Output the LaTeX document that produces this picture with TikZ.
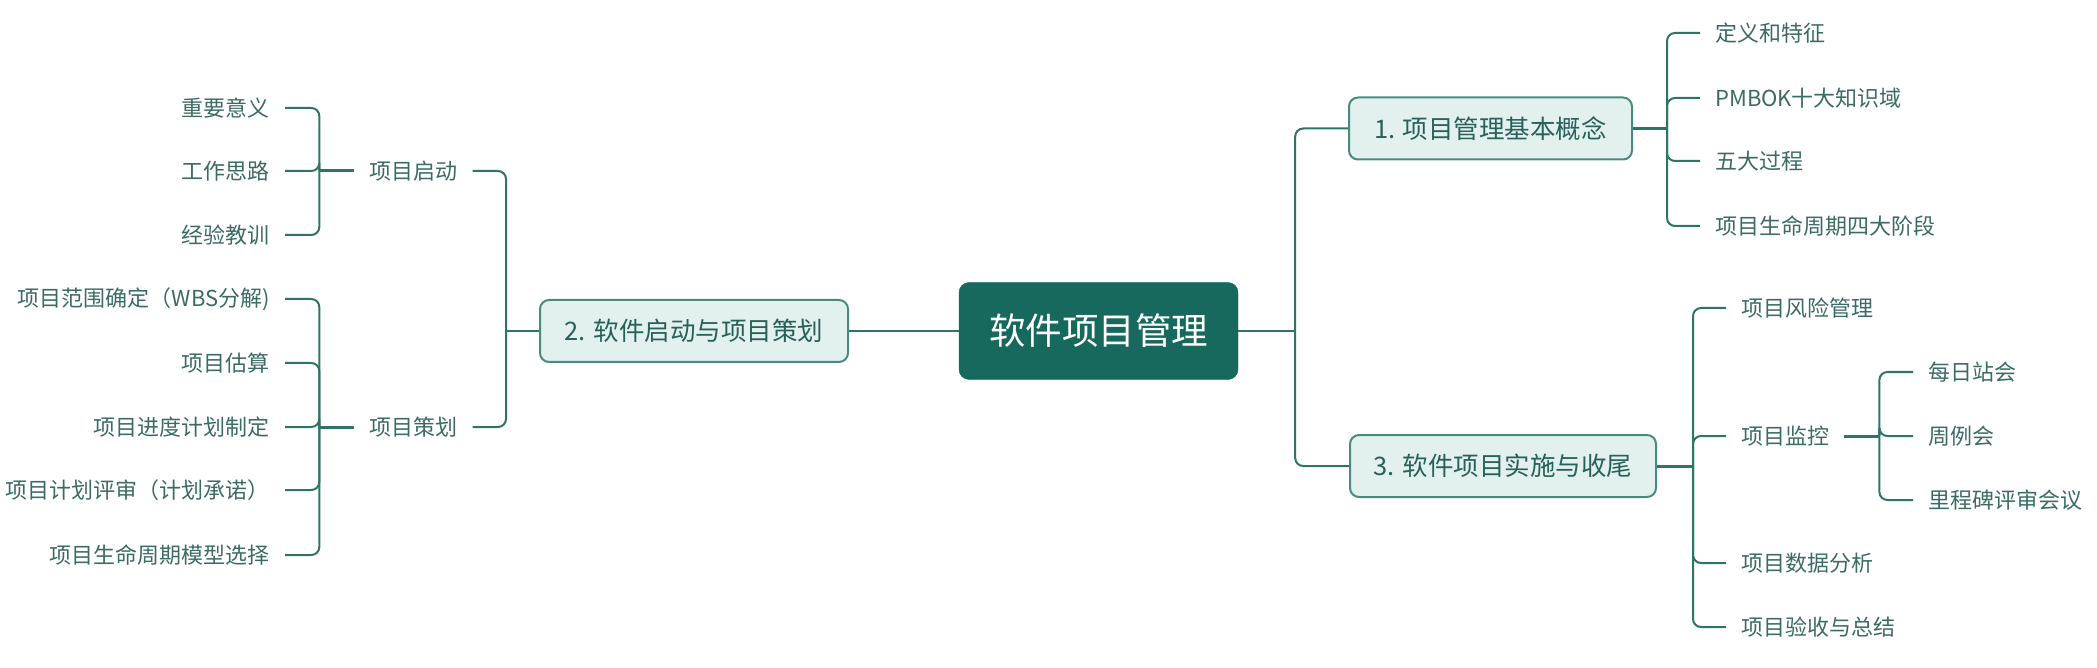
\documentclass[tikz,border=0pt]{standalone}
\usepackage{fontspec}
\newfontfamily\cjk{Noto Sans CJK SC}
\usepackage{xcolor}
\definecolor{rootteal}{RGB}{23, 105, 93}
\definecolor{boxfill}{RGB}{226, 240, 238}
\definecolor{boxline}{RGB}{74, 138, 128}
\definecolor{boxtext}{RGB}{40, 96, 90}
\definecolor{leaftext}{RGB}{59, 107, 100}
\definecolor{linkteal}{RGB}{46, 116, 104}

\begin{document}
\begin{tikzpicture}[x=1pt, y=-1pt,
	rootbox/.style={draw=rootteal, fill=rootteal, rounded corners=10pt, text=white, minimum width=279pt, minimum height=97pt, font=\cjk\fontsize{36.5}{40}\selectfont},
	topicbox/.style={draw=boxline, line width=2pt, fill=boxfill, rounded corners=9pt, text=boxtext, minimum height=62pt, font=\cjk\fontsize{25.5}{30}\selectfont},
	leaf/.style={text=leaftext, inner xsep=15pt, inner ysep=3pt, font=\cjk\fontsize{22}{26}\selectfont},
	link/.style={draw=linkteal, line width=2pt, rounded corners=8pt},
	stub/.style={draw=linkteal, line width=3pt}]
	\useasboundingbox (0,0) rectangle (2097,668);
	\node[rootbox] (root) at (1098.5,331) {软件项目管理};
	\node[topicbox, minimum width=308pt] (plan) at (694,331) {2. 软件启动与项目策划};
	\node[topicbox, minimum width=283pt] (concept) at (1490.5,128.5) {1. 项目管理基本概念};
	\node[topicbox, minimum width=306pt] (impl) at (1503,466) {3. 软件项目实施与收尾};

	\node[leaf] (start) at (413.5,171) {项目启动};
	\node[leaf] (scheme) at (413.5,427) {项目策划};
	\node[leaf, anchor=east] (meaning) at (285,108) {重要意义};
	\node[leaf, anchor=east] (idea) at (285,171) {工作思路};
	\node[leaf, anchor=east] (lesson) at (285,235) {经验教训};
	\node[leaf, anchor=east] (scope) at (285,299) {项目范围确定（WBS分解)};
	\node[leaf, anchor=east] (estimate) at (285,363) {项目估算};
	\node[leaf, anchor=east] (sched) at (285,427) {项目进度计划制定};
	\node[leaf, anchor=east] (review) at (285,490) {项目计划评审（计划承诺）};
	\node[leaf, anchor=east] (model) at (285,555) {项目生命周期模型选择};

	\node[leaf, anchor=west] (def) at (1700,33) {定义和特征};
	\node[leaf, anchor=west] (pmbok) at (1700,98) {PMBOK十大知识域};
	\node[leaf, anchor=west] (proc) at (1700,161) {五大过程};
	\node[leaf, anchor=west] (phase) at (1700,226) {项目生命周期四大阶段};

	\node[leaf, anchor=west] (risk) at (1726,308) {项目风险管理};
	\node[leaf, anchor=west] (monitor) at (1726,436) {项目监控};
	\node[leaf, anchor=west] (data) at (1726,563) {项目数据分析};
	\node[leaf, anchor=west] (accept) at (1726,627) {项目验收与总结};
	\node[leaf, anchor=west] (daily) at (1913,372) {每日站会};
	\node[leaf, anchor=west] (weekly) at (1913,436) {周例会};
	\node[leaf, anchor=west] (milestone) at (1913,500) {里程碑评审会议};

	\draw[link] (root.west) -- (plan.east);
	\draw[link] (root.east) -- ++(57,0) coordinate (rootj);
	\draw[link] (rootj) |- (concept.west);
	\draw[link] (rootj) |- (impl.west);

	\draw[link] (plan.west) -- ++(-33,0) coordinate (planj);
	\draw[link] (planj) |- (start.east);
	\draw[link] (planj) |- (scheme.east);

	\draw[stub] (start.west) -- ++(-35,0) coordinate (startj);
	\draw[link] (startj) |- (meaning.east);
	\draw[link] (startj) |- (idea.east);
	\draw[link] (startj) |- (lesson.east);

	\draw[stub] (scheme.west) -- ++(-35,0) coordinate (schemej);
	\draw[link] (schemej) |- (scope.east);
	\draw[link] (schemej) |- (estimate.east);
	\draw[link] (schemej) |- (sched.east);
	\draw[link] (schemej) |- (review.east);
	\draw[link] (schemej) |- (model.east);

	\draw[stub] (concept.east) -- ++(34,0) coordinate (conceptj);
	\draw[link] (conceptj) |- (def.west);
	\draw[link] (conceptj) |- (pmbok.west);
	\draw[link] (conceptj) |- (proc.west);
	\draw[link] (conceptj) |- (phase.west);

	\draw[stub] (impl.east) -- ++(36,0) coordinate (implj);
	\draw[link] (implj) |- (risk.west);
	\draw[link] (implj) |- (monitor.west);
	\draw[link] (implj) |- (data.west);
	\draw[link] (implj) |- (accept.west);

	\draw[stub] (monitor.east) -- ++(35,0) coordinate (monitorj);
	\draw[link] (monitorj) |- (daily.west);
	\draw[link] (monitorj) |- (weekly.west);
	\draw[link] (monitorj) |- (milestone.west);
\end{tikzpicture}
\end{document}
